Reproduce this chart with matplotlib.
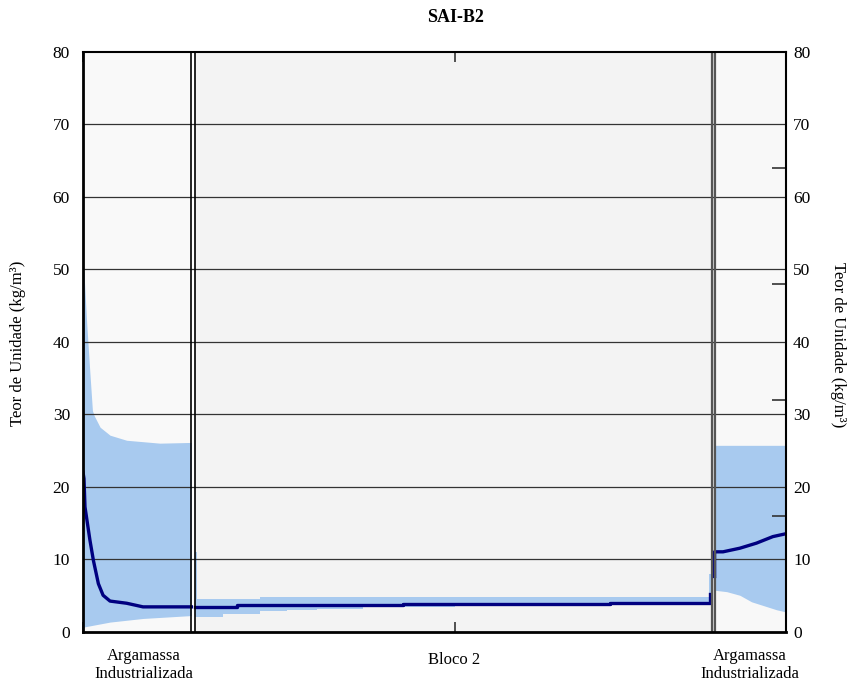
import matplotlib
matplotlib.use("Agg")
import matplotlib.pyplot as plt
import matplotlib.transforms as mtrans
import numpy as np

plt.rcParams['font.family'] = ['Liberation Serif', 'DejaVu Serif']

# ---- data (x in cm, moisture content in kg/m3) ----
title = "SAI-B2"
ylabel = "Teor de Unidade (kg/m³)"
layer_names = ["Argamassa\nIndustrializada", "Bloco 2", "Argamassa\nIndustrializada"]
layer_bounds = [0.0, 4.37, 4.52, 25.35, 25.47, 28.35]
y_ticks = [0, 10, 20, 30, 40, 50, 60, 70, 80]
right_minor = [16, 32, 48, 64]

# layer 1 envelope and profile
l1_up_x = [0.0, 0.04, 0.15, 0.28, 0.38, 0.45, 0.69, 1.09, 1.76, 3.10, 4.37]
l1_up_y = [50.0, 49.5, 42.5, 35.6, 30.5, 29.8, 28.2, 27.1, 26.4, 26.0, 26.1]
l1_lo_x = [0.0, 1.09, 2.42, 4.37]
l1_lo_y = [0.6, 1.3, 1.8, 2.2]
l1_line_x = [0.0, 0.04, 0.08, 0.28, 0.42, 0.62, 0.81, 1.09, 1.76, 2.42, 4.37]
l1_line_y = [22.0, 21.1, 17.2, 12.6, 9.8, 6.6, 5.0, 4.2, 3.9, 3.4, 3.4]

# layer 2 envelope (steps) and profile
l2_up_x = [4.52, 4.60, 7.14, 16.52, 25.24, 25.35]
l2_up_y = [11.0, 4.5, 4.8, 4.75, 8.0, 8.0]
l2_lo_x = [4.52, 5.65, 7.14, 8.21, 9.42, 11.3, 12.9, 15.0, 21.25, 25.35]
l2_lo_y = [2.0, 2.4, 2.8, 3.0, 3.1, 3.4, 3.45, 3.55, 3.6, 3.6]
l2_line_x = [4.52, 6.20, 8.21, 12.90, 21.25, 25.28, 25.28]
l2_line_y = [3.37, 3.6, 3.7, 3.8, 3.92, 3.92, 5.2]

# layer 3 envelope and profile
l3_up_x = [25.47, 28.35]
l3_up_y = [25.7, 25.7]
l3_lo_x = [25.47, 25.96, 26.49, 26.96, 27.42, 27.97, 28.35]
l3_lo_y = [5.7, 5.5, 5.0, 4.1, 3.6, 3.0, 2.7]
l3_line_x = [25.47, 25.47, 25.81, 26.49, 27.16, 27.82, 28.35]
l3_line_y = [7.6, 11.0, 11.0, 11.5, 12.2, 13.1, 13.5]

env_color = "#A8CAEF"
line_color = "#000080"

W, H = 849, 683
fig = plt.figure(figsize=(W / 100, H / 100), dpi=100)
ax = fig.add_axes([83 / W, 1 - 631.5 / H, (786 - 83) / W, (631.5 - 52) / H])
ax.set_xlim(layer_bounds[0], layer_bounds[-1])
ax.set_ylim(0, 80)

# layer backgrounds
ax.axvspan(layer_bounds[0], layer_bounds[1], color="#F9F9F9", zorder=0, lw=0)
ax.axvspan(layer_bounds[1], layer_bounds[2], color="white", zorder=0, lw=0)
ax.axvspan(layer_bounds[2], layer_bounds[3], color="#F3F3F3", zorder=0, lw=0)
ax.axvspan(layer_bounds[3], layer_bounds[4], color="#DDDDDD", zorder=0, lw=0)
ax.axvspan(layer_bounds[4], layer_bounds[5], color="#F8F8F8", zorder=0, lw=0)


def env(ux, uy, lx, ly, step=False):
    xs = np.union1d(ux, lx)
    if step:
        u = np.array(uy)[np.searchsorted(ux, xs, side='right') - 1]
        l = np.array(ly)[np.searchsorted(lx, xs, side='right') - 1]
        ax.fill_between(xs, l, u, step='post', color=env_color, lw=0, zorder=1)
    else:
        u = np.interp(xs, ux, uy)
        l = np.interp(xs, lx, ly)
        ax.fill_between(xs, l, u, color=env_color, lw=0, zorder=1)


env(l1_up_x, l1_up_y, l1_lo_x, l1_lo_y)
env(l2_up_x, l2_up_y, l2_lo_x, l2_lo_y, step=True)
env(l3_up_x, l3_up_y, l3_lo_x, l3_lo_y)

# gridlines
for yv in y_ticks[1:-1]:
    ax.axhline(yv, color="#333333", lw=0.9, zorder=2)

# profiles
ax.plot(l1_line_x, l1_line_y, color=line_color, lw=2.4, zorder=4, solid_joinstyle='round')
ax.plot(l2_line_x, l2_line_y, color=line_color, lw=2.4, zorder=4, drawstyle='steps-post')
ax.plot(l3_line_x, l3_line_y, color=line_color, lw=2.4, zorder=4)

# layer boundary lines
ax.axvline(layer_bounds[1], color="black", lw=1.2, zorder=5)
ax.axvline(layer_bounds[2], color="black", lw=1.2, zorder=5)
ax.axvline(layer_bounds[3], color="#555555", lw=1.6, zorder=5)
ax.axvline(layer_bounds[4], color="#555555", lw=1.6, zorder=5)

# spines
for s in ["left", "bottom"]:
    ax.spines[s].set_linewidth(2.0)
for s in ["top", "right"]:
    ax.spines[s].set_linewidth(1.5)
for s in ax.spines.values():
    s.set_zorder(6)

# ticks
ax.set_yticks(y_ticks)
ax.tick_params(axis='y', which='major', length=0, labelsize=12.5, pad=9.4,
               left=True, right=True, labelleft=True, labelright=True)
ax.set_yticks(right_minor, minor=True)
ax.tick_params(axis='y', which='minor', direction='in', length=10, width=1.2,
               color="#333333", left=False, right=True, labelright=False, labelleft=False)
ax.set_xticks([0, 15])
ax.set_xticklabels(["", ""])
ax.tick_params(axis='x', direction='in', length=7, width=1.2, top=True, bottom=True,
               color="#333333")

for t in ax.yaxis.get_major_ticks():
    t.label2.set_transform(t.label2.get_transform() +
                           mtrans.ScaledTranslation(-6 / 100, 0, fig.dpi_scale_trans))

# axis labels
fig.text(18 / W, 1 - 343 / H, ylabel, rotation=90, ha='center', va='center', fontsize=12)
fig.text(838 / W, 1 - 345 / H, ylabel, rotation=270, ha='center', va='center', fontsize=12)

# title
fig.text(455 / W, 1 - 17 / H, title, ha='center', va='center', fontsize=13, fontweight='bold')

# layer names
fig.text(144 / W, 1 - 665 / H, layer_names[0], ha='center', va='center', fontsize=12, linespacing=1.15)
fig.text(454 / W, 1 - 660 / H, layer_names[1], ha='center', va='center', fontsize=12)
fig.text(750 / W, 1 - 665 / H, layer_names[2], ha='center', va='center', fontsize=12, linespacing=1.15)

fig.savefig("out.png", dpi=100, facecolor="white")
